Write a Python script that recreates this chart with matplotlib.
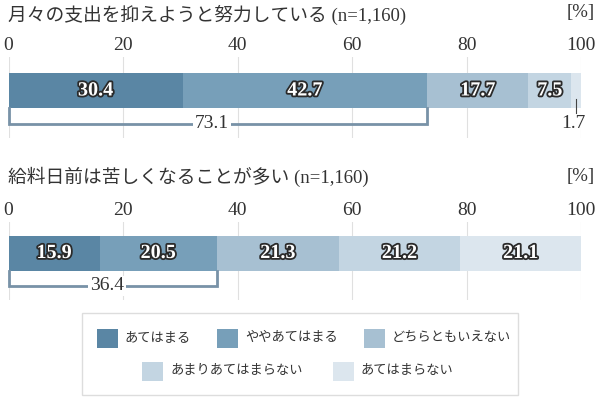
import matplotlib
matplotlib.use("Agg")
import matplotlib.pyplot as plt
import matplotlib.patheffects as pe
from matplotlib.patches import Rectangle

FONT = ["Liberation Serif", "Noto Sans CJK JP"]
plt.rcParams["font.family"] = FONT

# данные
titles = ["月々の支出を抑えようと努力している (n=1,160)",
          "給料日前は苦しくなることが多い (n=1,160)"]
categories = ["あてはまる", "ややあてはまる", "どちらともいえない",
              "あまりあてはまらない", "あてはまらない"]
values_q1 = [30.4, 42.7, 17.7, 7.5, 1.7]
values_q2 = [15.9, 20.5, 21.3, 21.2, 21.1]
totals = [73.1, 36.4]  # あてはまる + ややあてはまる
ticks = [0, 20, 40, 60, 80, 100]
colors = ["#5a86a4", "#779fb9", "#a7c0d2", "#c3d5e2", "#dce6ee"]
BRACKET = "#7892a7"

W, H = 600, 399
fig = plt.figure(figsize=(W / 100, H / 100), dpi=100)

X0, X1 = 8.5, 581  # пиксели для 0 и 100


def make_ax(top, bottom):
    ax = fig.add_axes([X0 / W, 1 - bottom / H, (X1 - X0) / W, (bottom - top) / H])
    ax.set_xlim(0, 100)
    ax.set_ylim(bottom, top)
    for s in ax.spines.values():
        s.set_visible(False)
    ax.set_yticks([])
    ax.set_xticks(ticks)
    ax.xaxis.set_ticks_position("top")
    ax.tick_params(axis="x", length=0, pad=2, labelsize=14, labelcolor="#333333")
    ax.grid(axis="x", color="#e0e0e0", lw=0.8)
    ax.set_axisbelow(True)
    return ax


def draw_bar(ax, vals, total, yc, h, ybr, small_last=False):
    left = 0
    for i, v in enumerate(vals):
        ax.barh(yc, v, left=left, height=h, color=colors[i], zorder=2)
        if small_last and i == len(vals) - 1:
            xc = left + v / 2
            ax.plot([xc, xc], [yc + 8, yc + 22], color="#444444", lw=0.8, zorder=3)
            ax.text(xc - 0.4, ybr - 1, f"{v}", ha="center", va="center",
                    fontsize=14, color="#333333", zorder=4)
        else:
            ax.text(left + v / 2, yc, f"{v}", ha="center", va="center",
                    fontsize=14.5, fontweight="semibold", color="white", zorder=4,
                    path_effects=[pe.withStroke(linewidth=2.6, foreground="#2a2a2a")])
        left += v
    # скобка для суммы
    ybot = yc + h / 2
    ax.plot([0, 0, total, total], [ybot, ybr, ybr, ybot], color=BRACKET, lw=2,
            solid_joinstyle="miter", zorder=3, clip_on=False)
    ax.text(total / 2 - 1, ybr, f"{total}", ha="center", va="center", fontsize=14,
            color="#333333", zorder=4,
            bbox=dict(boxstyle="square,pad=0.1", fc="white", ec="none"))


# 1 блок
fig.text(8 / W, 1 - 15 / H, titles[0], ha="left", va="center", fontsize=13.5, color="#333333")
fig.text(595 / W, 1 - 13 / H, "[%]", ha="right", va="center", fontsize=13.5, color="#333333")
ax1 = make_ax(57, 138)
draw_bar(ax1, values_q1, totals[0], 90.5, 35, 124, small_last=True)

# 2 блок
fig.text(8 / W, 1 - 177 / H, titles[1], ha="left", va="center", fontsize=13.5, color="#333333")
fig.text(595 / W, 1 - 176 / H, "[%]", ha="right", va="center", fontsize=13.5, color="#333333")
ax2 = make_ax(222, 300)
draw_bar(ax2, values_q2, totals[1], 253, 35, 286)

# легенда
lg = fig.add_axes([0, 0, 1, 1])
lg.set_xlim(0, W)
lg.set_ylim(H, 0)
lg.axis("off")
lg.patch.set_visible(False)
lg.add_patch(Rectangle((82, 313), 436, 82, fc="none", ec="#dddddd", lw=1))
leg_pos = [(97, 338), (217, 338), (364, 338), (142, 371), (333, 371)]
for (x, y), name, c in zip(leg_pos, categories, colors):
    lg.add_patch(Rectangle((x, y - 9.5), 21, 19, fc=c, ec="none"))
    lg.text(x + 28, y, name, ha="left", va="center", fontsize=9.5, color="#333333")

fig.savefig("out.png", dpi=100)
